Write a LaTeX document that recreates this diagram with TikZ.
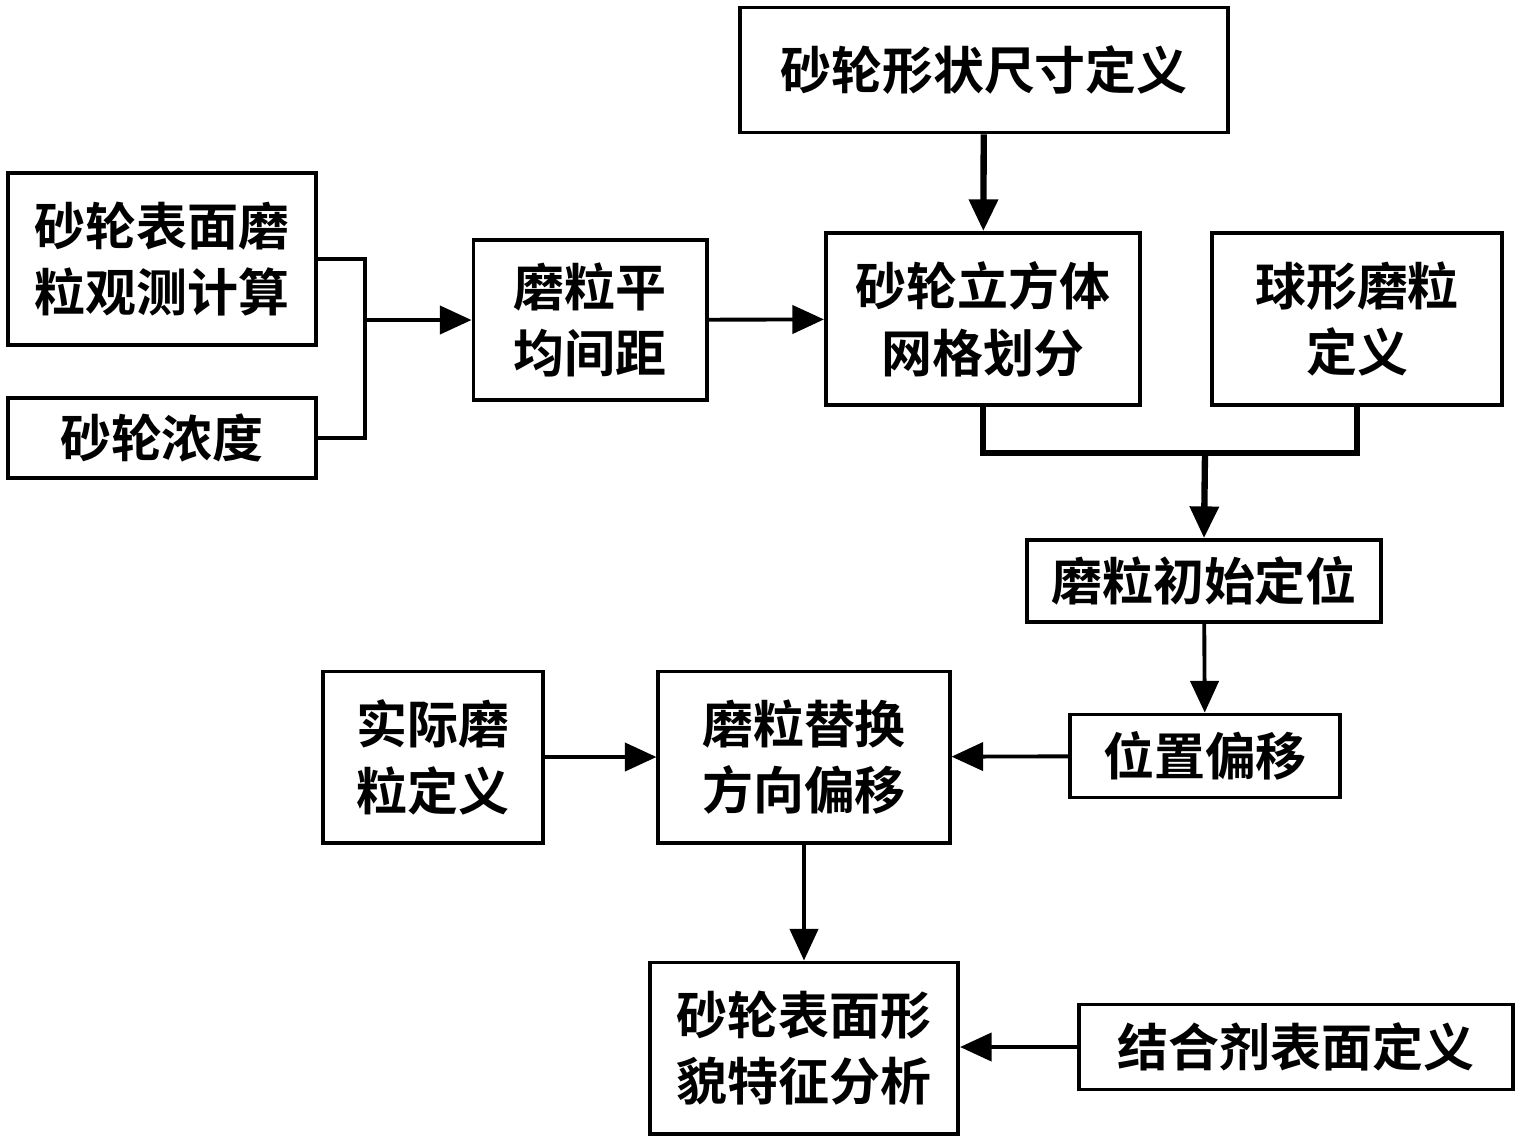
\documentclass[tikz,border=0pt]{standalone}
\usepackage{fontspec}
\setmainfont{Noto Sans CJK SC}[BoldFont={Noto Sans CJK SC Bold}]
\usetikzlibrary{arrows.meta}

\begin{document}
\begin{tikzpicture}[x=0.01cm,y=-0.01cm,>={Triangle[length=9pt,width=8pt]},
    box/.style={draw=black,line width=1.1pt,inner sep=0pt,align=center,
      font=\fontsize{14.5}{19}\selectfont\bfseries},
    link/.style={line width=1.1pt},
    thick link/.style={line width=1.8pt}]
  \useasboundingbox (0,0) rectangle (1523,1144);
  % top row
  \node[box,minimum width=4.88cm,minimum height=1.25cm] (shape) at (984,70) {砂轮形状尺寸定义};
  \node[box,minimum width=3.08cm,minimum height=1.72cm] (observe) at (162,259) {砂轮表面磨\\粒观测计算};
  \node[box,minimum width=3.08cm,minimum height=0.80cm] (density) at (162,438) {砂轮浓度};
  \node[box,minimum width=2.33cm,minimum height=1.60cm] (spacing) at (590,320) {磨粒平\\均间距};
  \node[box,minimum width=3.14cm,minimum height=1.72cm] (mesh) at (983,319) {砂轮立方体\\网格划分};
  \node[box,minimum width=2.89cm,minimum height=1.72cm] (sphere) at (1357,319) {球形磨粒\\定义};
  % middle
  \node[box,minimum width=3.53cm,minimum height=0.82cm] (init) at (1204,581) {磨粒初始定位};
  \node[box,minimum width=2.70cm,minimum height=0.83cm] (offset) at (1205,756) {位置偏移};
  \node[box,minimum width=2.20cm,minimum height=1.71cm] (real) at (433,757) {实际磨\\粒定义};
  \node[box,minimum width=2.91cm,minimum height=1.71cm] (replace) at (804,757) {磨粒替换\\方向偏移};
  % bottom
  \node[box,minimum width=3.08cm,minimum height=1.71cm] (analysis) at (804,1048) {砂轮表面形\\貌特征分析};
  \node[box,minimum width=4.33cm,minimum height=0.85cm] (bond) at (1296,1047) {结合剂表面定义};

  \coordinate (join1) at (365,320);
  \coordinate (join2) at (1205,453);

  \draw[thick link,->] (shape) -- (mesh);
  \draw[link] (observe.east) -| (join1) |- (density.east);
  \draw[link,->] (join1) -- (spacing.west);
  \draw[link,->] (spacing) -- (mesh);
  \draw[thick link] (mesh.south) |- (join2) -| (sphere.south);
  \draw[thick link,->] (join2) -- (init.north);
  \draw[link,->] (init) -- (offset);
  \draw[link,->] (offset) -- (replace);
  \draw[link,->] (real) -- (replace);
  \draw[link,->] (replace) -- (analysis);
  \draw[link,->] (bond.west) -- (analysis.east |- bond.west);
\end{tikzpicture}
\end{document}
